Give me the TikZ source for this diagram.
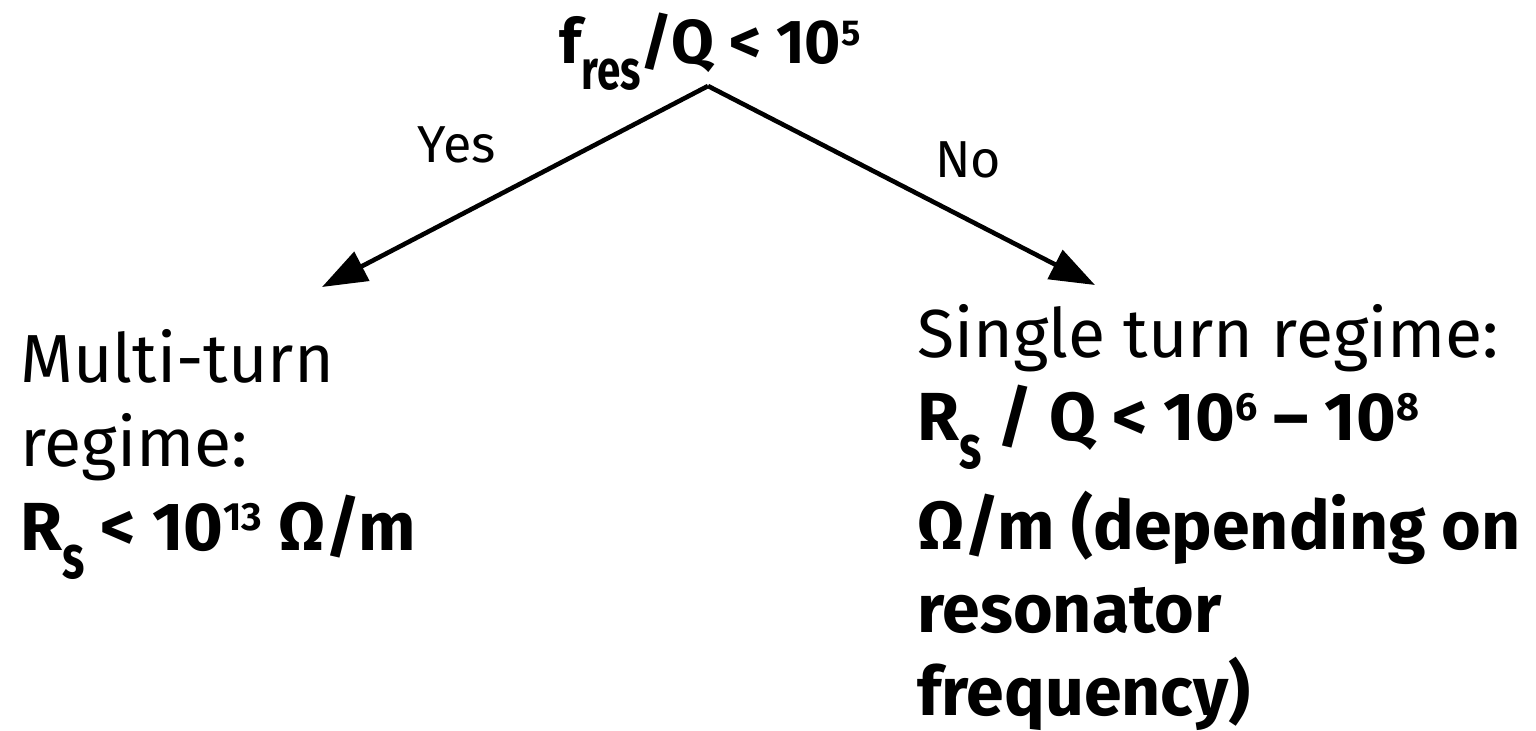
\documentclass[tikz,border=0pt]{standalone}
\usepackage{graphicx}
\usepackage{fontspec}
\setmainfont{Fira Sans}
\usetikzlibrary{arrows.meta}
\newcommand\mysub[1]{\raisebox{-0.42em}{\scalebox{0.68}[0.9]{#1}}}
\newcommand\mysup[1]{\raisebox{0.29em}{\scalebox{0.58}{#1}}}
\begin{document}
\begin{tikzpicture}[x=0.5pt,y=-0.5pt,
  lbl/.style={inner sep=0pt, font=\fontsize{34}{42}\selectfont, align=left},
  ttl/.style={inner sep=0pt, font=\fontsize{31}{37}\selectfont\bfseries},
  yn/.style={inner sep=0pt, font=\fontsize{26}{30}\selectfont},
  arr/.style={line width=2.3pt, -{Triangle[length=22.5pt,width=16pt]}}]
\useasboundingbox (0,0) rectangle (1536,730);
\node[ttl, anchor=base] (top) at (710,63) {f\mysub{res}/Q < 10\mysup{5}};
\coordinate (apex) at (708,86);
\coordinate (L) at (322,287);
\coordinate (R) at (1095,285);
\draw[arr] (apex) -- (L);
\draw[arr] (apex) -- (R);
\node[yn, anchor=base] (yes) at (457,162) {Yes};
\node[yn, anchor=base] (no) at (968,177) {No};
\node[lbl, anchor=base west] (left) at (20,550) {Multi-turn\\regime:\\\textbf{R\mysub{s} < 10\mysup{13} Ω/m}};
\node[lbl, anchor=base west, font=\fontsize{34}{41.5}\selectfont] (right) at (917,715) {Single turn regime:\\\textbf{R\mysub{s} / Q < 10\mysup{6} – 10\mysup{8}}\\[9.5pt]\textbf{Ω/m (depending on}\\\textbf{resonator}\\\textbf{frequency)}};
\end{tikzpicture}
\end{document}
